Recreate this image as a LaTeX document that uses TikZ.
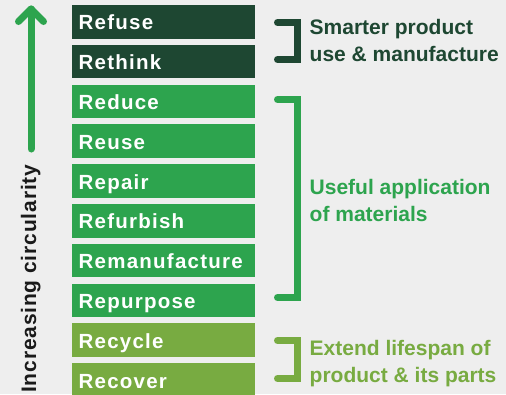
\documentclass[tikz,border=0pt]{standalone}
\usepackage{fontspec}
\setmainfont{Liberation Sans}
\newfontfamily\boxfont{Liberation Sans}[LetterSpace=6]
\newfontfamily\sidefont{Liberation Sans}[LetterSpace=4]
\definecolor{bg}{HTML}{EEEEEE}
\definecolor{darkg}{HTML}{1E4732}
\definecolor{midg}{HTML}{2DA44E}
\definecolor{lightg}{HTML}{78AB41}
\definecolor{ink}{HTML}{1A1A1A}
\begin{document}
\begin{tikzpicture}[x=1pt,y=-1pt,
  stepbox/.style={anchor=north west,minimum width=183pt,minimum height=33.7pt,
    inner xsep=6.5pt,inner ysep=0pt,text height=16.3pt,text depth=0pt,
    text=white,align=left,text width=170pt,
    font=\boxfont\bfseries\fontsize{20.5}{24}\selectfont},
  bracket/.style={line width=7pt,line cap=round,line join=miter},
  sidetext/.style={anchor=base west,inner sep=0pt,align=left,
    font=\bfseries\fontsize{21}{26.3}\selectfont},
  arrowline/.style={line width=7pt,line cap=round,line join=round,draw=midg}]
\fill[bg] (0,0) rectangle (506,394);
\useasboundingbox (0,0) rectangle (506,394);
% boxes
\node[stepbox,fill=darkg] (refuse) at (72,4.7) {Refuse};
\node[stepbox,fill=darkg] (rethink) at (72,44.5) {Rethink};
\node[stepbox,fill=midg] (reduce) at (72,84.3) {Reduce};
\node[stepbox,fill=midg] (reuse) at (72,124.1) {Reuse};
\node[stepbox,fill=midg] (repair) at (72,163.9) {Repair};
\node[stepbox,fill=midg] (refurbish) at (72,203.7) {Refurbish};
\node[stepbox,fill=midg] (reman) at (72,243.5) {Remanufacture};
\node[stepbox,fill=midg] (repurpose) at (72,283.3) {Repurpose};
\node[stepbox,fill=lightg] (recycle) at (72,323.1) {Recycle};
\node[stepbox,fill=lightg] (recover) at (72,362.9) {Recover};
% arrow
\coordinate (atip) at (31,9);
\coordinate (abase) at (31,149);
\draw[arrowline] (abase) -- (atip);
\draw[arrowline] (18.5,21.5) -- (atip) -- (43.5,21.5);
\node[anchor=base west,inner sep=0pt,rotate=90,text=ink,
  font=\sidefont\bfseries\fontsize{21}{26}\selectfont] (circ) at (36,393) {Increasing circularity};
% brackets
\draw[bracket,draw=darkg] (277.5,22.5) -- (297,22.5) -- (297,59.5) -- (277.5,59.5);
\draw[bracket,draw=midg] (277.5,99.5) -- (297,99.5) -- (297,297.5) -- (277.5,297.5);
\draw[bracket,draw=lightg] (277.5,340.5) -- (297,340.5) -- (297,378.5) -- (277.5,378.5);
% side texts (anchor at baseline of the last line)
\node[sidetext,text=darkg] (smart) at (309.5,61) {Smarter product\\use \& manufacture};
\node[sidetext,text=midg] (useful) at (309.5,221) {Useful application\\of materials};
\node[sidetext,text=lightg] (extend) at (309.5,382) {Extend lifespan of\\product \& its parts};
\end{tikzpicture}
\end{document}
